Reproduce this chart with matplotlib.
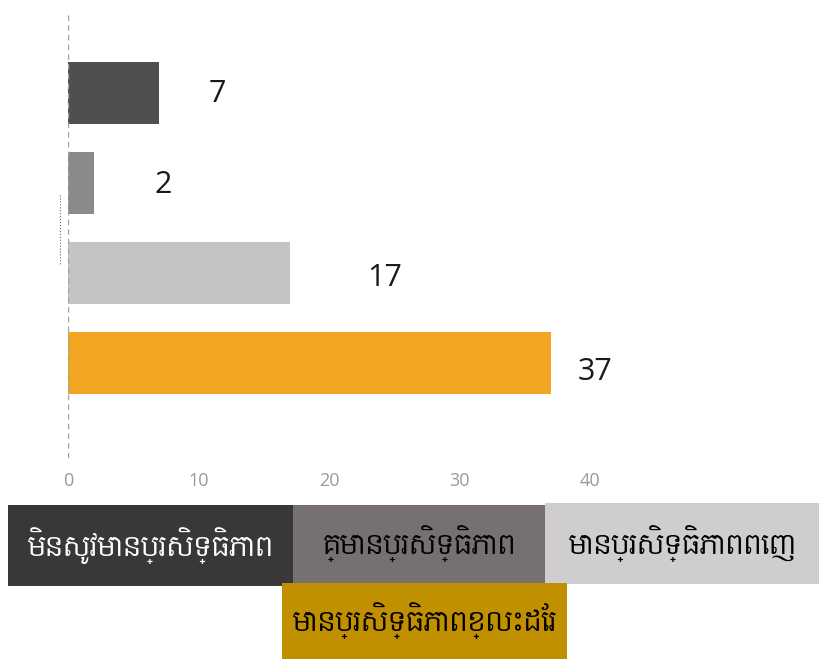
import matplotlib
matplotlib.use("Agg")
import matplotlib.pyplot as plt
from matplotlib.patches import Rectangle
from matplotlib.lines import Line2D

# data (top to bottom)
labels = ["មិនសូវមានប្រសិទ្ធិភាព", "គ្មានប្រសិទ្ធិភាព", "មានប្រសិទ្ធិភាពពេញ", "មានប្រសិទ្ធិភាពខ្លះដែរ"]
values = [7, 2, 17, 37]
bar_colors = ["#4f4f4f", "#8a8a8a", "#c4c4c4", "#f2a521"]
legend_colors = ["#3a3837", "#767170", "#cfcdcd", "#c09000"]
legend_text_colors = ["white", "black", "black", "black"]
xticks = [0, 10, 20, 30, 40]

# value label offsets (points)
lab_dx = [42, 50, 68, 32]
lab_dy = [-0.7, -1.4, -3.6, -6.5]

W, H = 820, 659
fig = plt.figure(figsize=(W / 100, H / 100), dpi=100)
ax = fig.add_axes([68 / W, 1 - 458 / H, 560 / W, 446 / H])

ypos = list(range(len(values)))[::-1]
ax.barh(ypos, values, height=0.69, color=bar_colors, zorder=2)
ax.axvline(0, color="#a0a0a0", lw=1, dashes=(4, 3), zorder=3)

for y, v, dx, dy in zip(ypos, values, lab_dx, lab_dy):
    ax.annotate(str(v), (v, y), xytext=(dx, dy), textcoords="offset points",
                ha="center", va="center", fontsize=22, family="Open Sans",
                color="#1a1a1a")

ax.set_xlim(0, 560 / 13.05)
ax.set_ylim(-1.06, 3.9)
ax.set_xticks(xticks)
ax.set_xticklabels([str(t) for t in xticks], fontsize=13, color="#999999",
                   family="Open Sans")
ax.tick_params(axis="x", length=0, pad=10)
ax.set_yticks([])
for s in ax.spines.values():
    s.set_visible(False)

# small dotted artefact left of the axis
fig.add_artist(Line2D([60 / W, 60 / W], [1 - 195 / H, 1 - 265 / H],
                      color="#666666", lw=0.8, ls=":"))

# legend boxes (pixel boxes: x0, y0, x1, y1 from top-left)
boxes = [(8, 505, 293, 586), (293, 505, 545, 583), (545, 503, 820, 584), (282, 583, 567, 659)]
for (x0, y0, x1, y1), c, tc, lab in zip(boxes, legend_colors, legend_text_colors, labels):
    fig.add_artist(Rectangle((x0 / W, 1 - y1 / H), (x1 - x0) / W, (y1 - y0) / H,
                             transform=fig.transFigure, color=c, lw=0))
    fig.text((x0 + x1) / 2 / W, 1 - (y0 + y1) / 2 / H, lab, ha="center", va="center",
             fontsize=19, family="Content", color=tc)

fig.savefig("out.png", dpi=100)
